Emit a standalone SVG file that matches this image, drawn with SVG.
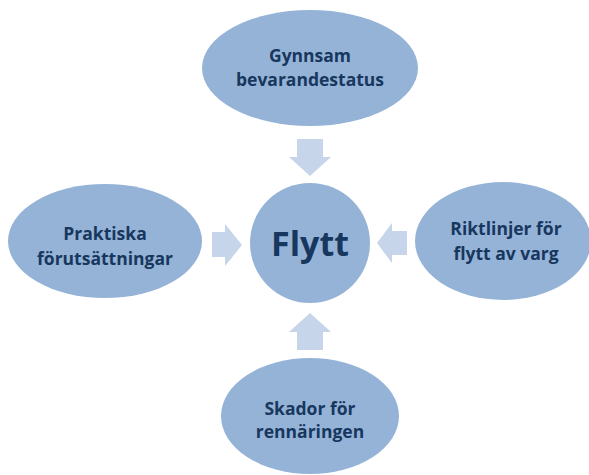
<svg xmlns="http://www.w3.org/2000/svg" width="589" height="475" viewBox="0 0 589 475">
  <style>
    .node { fill: #95B3D7; }
    .arrow { fill: #C6D5EA; }
    .label { font-family: "Open Sans", Lato, "Liberation Sans", sans-serif; font-weight: bold; font-size: 17.5px; fill: #17375E; text-anchor: middle; }
    .big { font-size: 34px; }
  </style>
  <rect width="589" height="475" fill="#FFFFFF"/>
  <g id="connectors">
    <polygon class="arrow" points="297,139 323,139 323,157 331,157 310,176 289,157 297,157"/>
    <polygon class="arrow" points="297,350 323,350 323,332 331,332 310,313 289,332 297,332"/>
    <polygon class="arrow" points="212,232 225,232 225,224 242,245 225,266 225,257 212,257"/>
    <polygon class="arrow" points="407,231 392,231 392,223 377,243 392,263 392,255 407,255"/>
  </g>
  <g id="node-center">
    <circle class="node" cx="310" cy="243" r="60"/>
    <text class="label big" x="310" y="256">Flytt</text>
  </g>
  <g id="node-top">
    <ellipse class="node" cx="310" cy="68" rx="108" ry="58"/>
    <text class="label" x="310" y="62">Gynnsam</text>
    <text class="label" x="310" y="86">bevarandestatus</text>
  </g>
  <g id="node-left">
    <ellipse class="node" cx="105" cy="241" rx="97" ry="57"/>
    <text class="label" x="105" y="240">Praktiska</text>
    <text class="label" x="105" y="265">förutsättningar</text>
  </g>
  <g id="node-right">
    <ellipse class="node" cx="503" cy="241" rx="88" ry="59"/>
    <text class="label" x="506" y="235">Riktlinjer för</text>
    <text class="label" x="506" y="260">flytt av varg</text>
  </g>
  <g id="node-bottom">
    <ellipse class="node" cx="310" cy="416" rx="89" ry="58"/>
    <text class="label" x="310" y="415">Skador för</text>
    <text class="label" x="310" y="438">rennäringen</text>
  </g>
</svg>
